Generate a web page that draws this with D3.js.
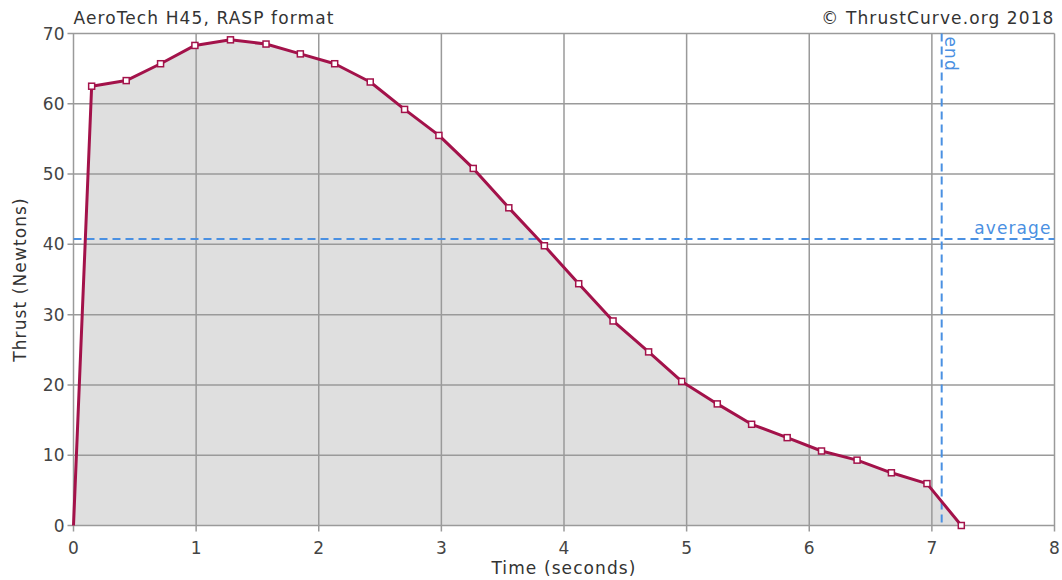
<!DOCTYPE html>
<html>
<head>
<meta charset="utf-8">
<script src="https://cdn.jsdelivr.net/npm/d3@7"></script>
<style>
  body { margin: 0; background: #fff; }
  text { font-family: "DejaVu Sans", sans-serif; }
</style>
</head>
<body>
<div id="chart"></div>
<script>
"use strict"

// thrust curve samples
const times  = [0, 0.148, 0.43, 0.71, 0.99, 1.28, 1.57, 1.85, 2.13, 2.42, 2.70, 2.98, 3.26, 3.55,
                3.84, 4.12, 4.40, 4.69, 4.96, 5.25, 5.53, 5.82, 6.10, 6.39, 6.67, 6.96, 7.24];
const thrust = [0, 62.5, 63.3, 65.7, 68.3, 69.1, 68.5, 67.1, 65.7, 63.1, 59.2, 55.5, 50.8, 45.2,
                39.8, 34.4, 29.1, 24.7, 20.5, 17.3, 14.4, 12.5, 10.6, 9.3, 7.5, 5.96, 0];
const xTicks = [0, 1, 2, 3, 4, 5, 6, 7, 8];
const yTicks = [0, 10, 20, 30, 40, 50, 60, 70];
const averageThrust = 40.75;
const burnEnd = 7.08;

const width = 1062, height = 580;
const margin = {top: 33.5, right: 7.5, bottom: 54.5, left: 73.5};
const fontSize = 17, spacing = "1.1px";

const svg = d3.select("#chart").append("svg")
    .attr("width", width)
    .attr("height", height);

const x = d3.scaleLinear().domain([0, 8]).range([margin.left, width - margin.right]);
const y = d3.scaleLinear().domain([0, 70]).range([height - margin.bottom, margin.top]);

const data = times.map((t, i) => ({t: t, f: thrust[i]}));

// filled area under the curve
svg.append("path")
    .datum(data)
    .attr("fill", "#dfdfdf")
    .attr("d", d3.area().x(d => x(d.t)).y0(y(0)).y1(d => y(d.f)));

// grid
svg.append("g").selectAll("line").data(xTicks).join("line")
    .attr("x1", d => x(d)).attr("x2", d => x(d))
    .attr("y1", y(0) + 6).attr("y2", y(70))
    .attr("stroke", "#9a9a9a").attr("stroke-width", 1.5);
svg.append("g").selectAll("line").data(yTicks).join("line")
    .attr("x1", x(0) - 6).attr("x2", x(8))
    .attr("y1", d => y(d)).attr("y2", d => y(d))
    .attr("stroke", "#9a9a9a").attr("stroke-width", 1.5);

// tick labels
svg.append("g").selectAll("text").data(xTicks).join("text")
    .attr("x", d => x(d)).attr("y", y(0) + 28)
    .attr("text-anchor", "middle")
    .attr("font-size", fontSize).attr("fill", "#444")
    .text(d => d);
svg.append("g").selectAll("text").data(yTicks).join("text")
    .attr("x", x(0) - 9).attr("y", d => y(d) + 6)
    .attr("text-anchor", "end")
    .attr("font-size", fontSize).attr("fill", "#444")
    .text(d => d);

// average and end markers
svg.append("line")
    .attr("x1", x(0)).attr("x2", x(8))
    .attr("y1", y(averageThrust)).attr("y2", y(averageThrust))
    .attr("stroke", "#4a90e2").attr("stroke-width", 2).attr("stroke-dasharray", "8,5");
svg.append("line")
    .attr("x1", x(burnEnd)).attr("x2", x(burnEnd))
    .attr("y1", y(70)).attr("y2", y(0))
    .attr("stroke", "#4a90e2").attr("stroke-width", 2).attr("stroke-dasharray", "8,5");
svg.append("text")
    .attr("x", x(8) - 3).attr("y", y(averageThrust) - 5)
    .attr("text-anchor", "end")
    .attr("font-size", fontSize).attr("letter-spacing", spacing).attr("fill", "#4a90e2")
    .text("average");
svg.append("text")
    .attr("transform", `translate(${x(burnEnd) + 3},${y(70) + 3}) rotate(90)`)
    .attr("font-size", fontSize).attr("letter-spacing", spacing).attr("fill", "#4a90e2")
    .text("end");

// thrust curve
svg.append("path")
    .datum(data)
    .attr("fill", "none")
    .attr("stroke", "#a3124a")
    .attr("stroke-width", 3)
    .attr("stroke-linejoin", "round")
    .attr("d", d3.line().x(d => x(d.t)).y(d => y(d.f)));

svg.append("g").selectAll("rect").data(data.slice(1)).join("rect")
    .attr("x", d => x(d.t) - 3).attr("y", d => y(d.f) - 3)
    .attr("width", 6).attr("height", 6)
    .attr("fill", "#fff")
    .attr("stroke", "#a3124a").attr("stroke-width", 1.5);

// titles
svg.append("text")
    .attr("x", x(0)).attr("y", 24)
    .attr("font-size", fontSize).attr("letter-spacing", spacing).attr("fill", "#333")
    .text("AeroTech H45, RASP format");
svg.append("text")
    .attr("x", x(8)).attr("y", 24)
    .attr("text-anchor", "end")
    .attr("font-size", fontSize).attr("letter-spacing", spacing).attr("fill", "#333")
    .text("© ThrustCurve.org 2018");
svg.append("text")
    .attr("x", (x(0) + x(8)) / 2).attr("y", 574)
    .attr("text-anchor", "middle")
    .attr("font-size", fontSize).attr("letter-spacing", spacing).attr("fill", "#333")
    .text("Time (seconds)");
svg.append("text")
    .attr("transform", `translate(26,${(y(0) + y(70)) / 2}) rotate(-90)`)
    .attr("text-anchor", "middle")
    .attr("font-size", fontSize).attr("letter-spacing", spacing).attr("fill", "#333")
    .text("Thrust (Newtons)");
</script>
</body>
</html>
